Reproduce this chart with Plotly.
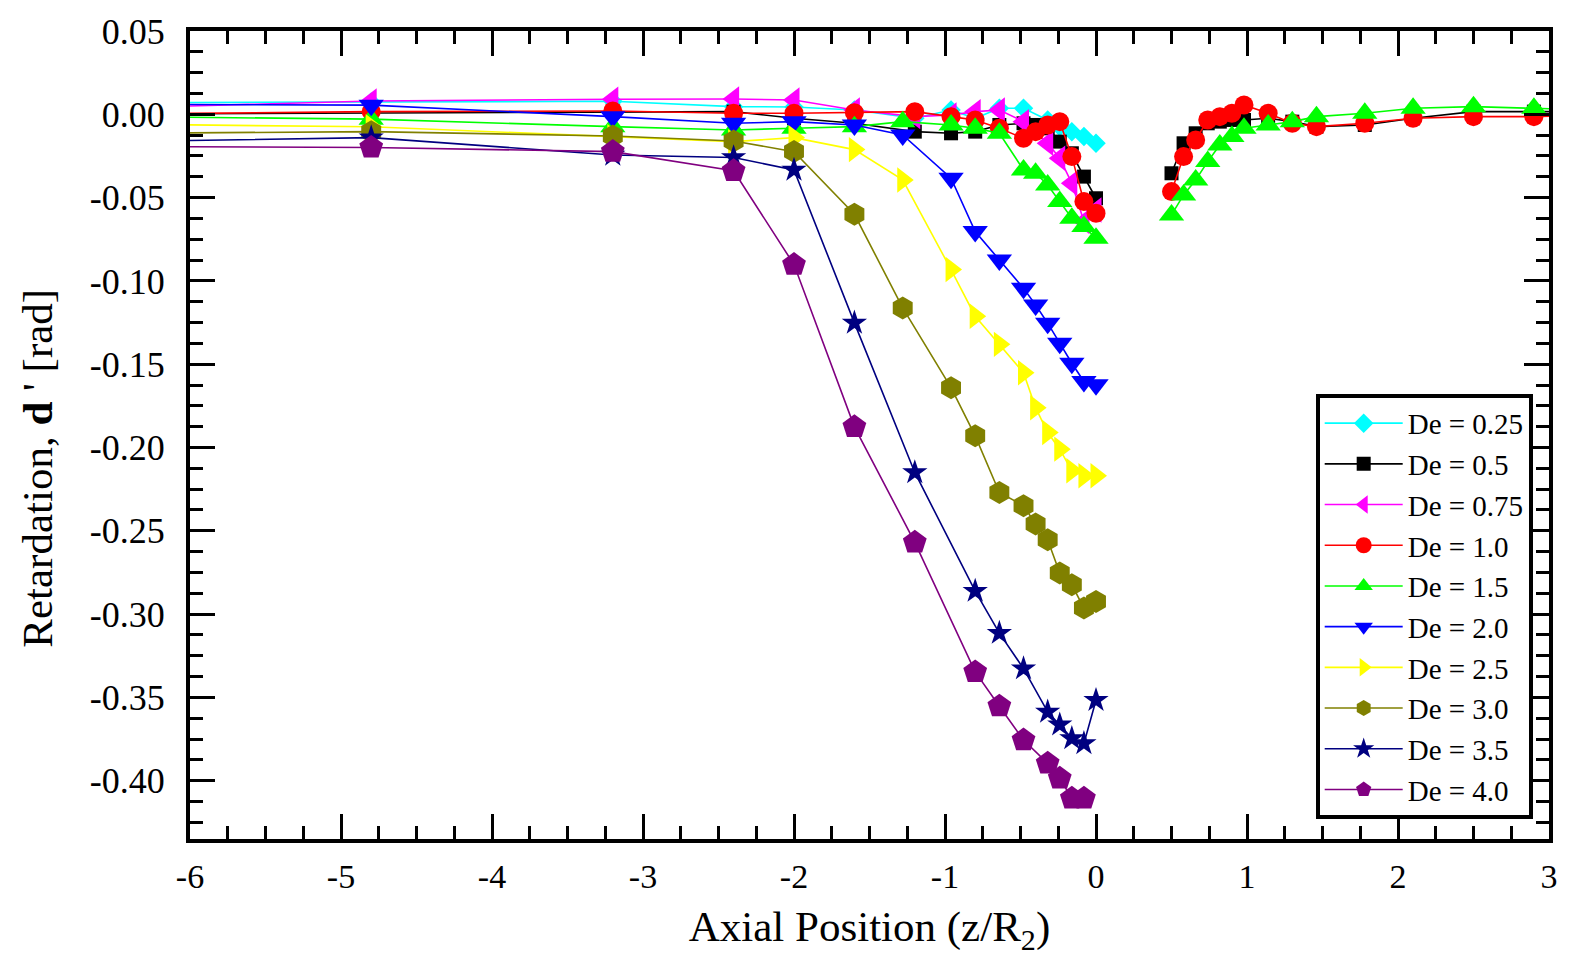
import plotly.graph_objects as go

# ---------------- data ----------------
LABELS = ["De = 0.25", "De = 0.5", "De = 0.75", "De = 1.0", "De = 1.5",
          "De = 2.0", "De = 2.5", "De = 3.0", "De = 3.5", "De = 4.0"]
COLORS = ["#00FFFF", "#000000", "#FF00FF", "#FF0000", "#00FF00",
          "#0000FF", "#FFFF00", "#808000", "#000080", "#800080"]
SYMBOLS = ["diamond", "square", "triangle-left", "circle", "triangle-up",
           "triangle-down", "triangle-right", "hexagon", "star", "pentagon"]
SIZES = [15, 14, 22, 19, 22, 22, 22, 23, 19, 25]

# upstream (negative z) side
X_025 = [-6.4, -4.8, -3.2, -2.4, -2.0, -1.6, -1.2, -0.96, -0.8, -0.64, -0.48, -0.32, -0.24, -0.16, -0.08, 0.0]
Y_025 = [0.0070, 0.0074, 0.0078, 0.0046, 0.0044, 0.0026, -0.0024, 0.0026, -0.0024, 0.0036, 0.0036, -0.0034, -0.0074, -0.0104, -0.0134, -0.0174]

X_05 = [-6.4, -4.8, -3.2, -2.4, -2.0, -1.6, -1.2, -0.96, -0.8, -0.64, -0.48, -0.40, -0.32, -0.24, -0.16, -0.08, 0.0]
Y_05 = [0.0002, 0.0008, 0.0016, 0.0016, -0.0024, -0.0054, -0.0104, -0.0114, -0.0104, -0.0064, -0.0054, -0.0064, -0.0084, -0.0164, -0.0234, -0.0374, -0.0504]

X_075 = [-6.4, -4.8, -3.2, -2.4, -2.0, -1.6, -1.2, -0.96, -0.8, -0.64, -0.48, -0.32, -0.24, -0.16, -0.08, 0.0]
Y_075 = [0.0040, 0.0080, 0.0090, 0.0092, 0.0086, 0.0026, -0.0014, -0.0004, 0.0016, 0.0026, -0.0044, -0.0174, -0.0264, -0.0414, -0.0644, -0.0574]

X_10 = [-6.4, -4.8, -3.2, -2.4, -2.0, -1.6, -1.2, -0.96, -0.8, -0.64, -0.48, -0.40, -0.32, -0.24, -0.16, -0.08, 0.0]
Y_10 = [0.0002, 0.0016, 0.0020, 0.0006, 0.0006, 0.0010, 0.0016, -0.0014, -0.0034, -0.0084, -0.0144, -0.0104, -0.0064, -0.0044, -0.0254, -0.0524, -0.0594]

X_15 = [-6.4, -4.8, -3.2, -2.4, -2.0, -1.6, -1.28, -0.96, -0.8, -0.64, -0.48, -0.40, -0.32, -0.24, -0.16, -0.08, 0.0]
Y_15 = [-0.0014, -0.0029, -0.0074, -0.0094, -0.0084, -0.0074, -0.0044, -0.0064, -0.0084, -0.0114, -0.0334, -0.0354, -0.0424, -0.0524, -0.0624, -0.0674, -0.0744]

X_20 = [-6.4, -4.8, -3.2, -2.4, -2.0, -1.6, -1.28, -0.96, -0.8, -0.64, -0.48, -0.40, -0.32, -0.24, -0.16, -0.08, 0.0]
Y_20 = [0.0060, 0.0055, -0.0014, -0.0054, -0.0044, -0.0064, -0.0124, -0.0384, -0.0704, -0.0874, -0.1044, -0.1144, -0.1254, -0.1374, -0.1494, -0.1604, -0.1624]

X_25 = [-6.4, -4.8, -3.2, -2.4, -2.0, -1.6, -1.28, -0.96, -0.8, -0.64, -0.48, -0.40, -0.32, -0.24, -0.16, -0.08, 0.0]
Y_25 = [-0.0060, -0.0075, -0.0134, -0.0164, -0.0140, -0.0212, -0.0394, -0.0932, -0.1212, -0.1381, -0.1551, -0.1761, -0.1910, -0.2010, -0.2140, -0.2170, -0.2170]

X_30 = [-6.4, -4.8, -3.2, -2.4, -2.0, -1.6, -1.28, -0.96, -0.8, -0.64, -0.48, -0.40, -0.32, -0.24, -0.16, -0.08, 0.0]
Y_30 = [-0.0114, -0.0104, -0.0130, -0.0160, -0.0224, -0.0600, -0.1162, -0.1641, -0.1930, -0.2270, -0.2349, -0.2459, -0.2554, -0.2754, -0.2824, -0.2964, -0.2924]

X_35 = [-6.4, -4.8, -3.2, -2.4, -2.0, -1.6, -1.2, -0.8, -0.64, -0.48, -0.32, -0.24, -0.16, -0.08, 0.0]
Y_35 = [-0.0163, -0.0140, -0.0244, -0.0259, -0.0334, -0.1252, -0.2150, -0.2862, -0.3114, -0.3327, -0.3587, -0.3664, -0.3746, -0.3776, -0.3517]

X_40 = [-6.4, -4.8, -3.2, -2.4, -2.0, -1.6, -1.2, -0.8, -0.64, -0.48, -0.32, -0.24, -0.16, -0.08]
Y_40 = [-0.0193, -0.0199, -0.0224, -0.0339, -0.0902, -0.1876, -0.2569, -0.3347, -0.3553, -0.3756, -0.3896, -0.3986, -0.4106, -0.4106]

# downstream (positive z) side, measured for De = 0.5, 1.0, 1.5
X_POS = [0.5, 0.58, 0.66, 0.74, 0.82, 0.90, 0.98, 1.14, 1.30, 1.46, 1.78, 2.10, 2.50, 2.90, 3.3]
Y_05_POS = [-0.0354, -0.0174, -0.0114, -0.0054, -0.0044, -0.0034, -0.0034, -0.0024, -0.0044, -0.0074, -0.0064, -0.0024, 0.0016, 0.0016, 0.0016]
Y_10_POS = [-0.0464, -0.0254, -0.0154, -0.0034, -0.0014, 0.0006, 0.0056, 0.0006, -0.0054, -0.0074, -0.0054, -0.0024, -0.0014, -0.0014, -0.0004]
Y_15_POS = [-0.0604, -0.0484, -0.0394, -0.0284, -0.0184, -0.0134, -0.0084, -0.0064, -0.0044, -0.0014, 0.0006, 0.0036, 0.0046, 0.0036, 0.0026]

X_TICKS = [-6, -5, -4, -3, -2, -1, 0, 1, 2, 3]
X_TICK_TEXT = ["-6", "-5", "-4", "-3", "-2", "-1", "0", "1", "2", "3"]
Y_TICKS = [0.05, 0.0, -0.05, -0.10, -0.15, -0.20, -0.25, -0.30, -0.35, -0.40]
Y_TICK_TEXT = ["0.05", "0.00", "-0.05", "-0.10", "-0.15", "-0.20", "-0.25", "-0.30", "-0.35", "-0.40"]

X_TITLE = "Axial Position (z/R<sub>2</sub>)"
Y_TITLE = "Retardation, <b>d</b> ' [rad]"

SERIES_X = [X_025, X_05 + [None] + X_POS, X_075, X_10 + [None] + X_POS, X_15 + [None] + X_POS,
            X_20, X_25, X_30, X_35, X_40]
SERIES_Y = [Y_025, Y_05 + [None] + Y_05_POS, Y_075, Y_10 + [None] + Y_10_POS, Y_15 + [None] + Y_15_POS,
            Y_20, Y_25, Y_30, Y_35, Y_40]

FONT = "Liberation Serif"

fig = go.Figure()
for i in range(len(LABELS)):
    fig.add_trace(go.Scatter(
        x=SERIES_X[i], y=SERIES_Y[i], mode="lines+markers", name=LABELS[i],
        connectgaps=False,
        line=dict(color=COLORS[i], width=1.6),
        marker=dict(symbol=SYMBOLS[i], size=SIZES[i], color=COLORS[i],
                    line=dict(width=0)),
    ))

axis_common = dict(
    showline=True, linecolor="black", linewidth=4, mirror="allticks",
    ticks="inside", ticklen=25, tickwidth=3, tickcolor="black",
    showgrid=False, zeroline=False,
)

fig.update_xaxes(
    range=[-6, 3], tickmode="array", tickvals=X_TICKS, ticktext=X_TICK_TEXT,
    tickfont=dict(family=FONT, size=34, color="black"),
    minor=dict(tickmode="linear", tick0=0, dtick=0.25, ticks="inside", ticklen=13,
               tickwidth=3, tickcolor="black", showgrid=False),
    title=dict(text=X_TITLE, font=dict(family=FONT, size=43, color="black"),
               standoff=19),
    ticklabelstandoff=4,
    **axis_common,
)
fig.update_yaxes(
    range=[-0.435, 0.05], tickmode="array", tickvals=Y_TICKS, ticktext=Y_TICK_TEXT,
    tickfont=dict(family=FONT, size=36, color="black"),
    minor=dict(tickmode="linear", tick0=0, dtick=0.0125, ticks="inside", ticklen=13,
               tickwidth=3, tickcolor="black", showgrid=False),
    ticklabelstandoff=14,
    **axis_common,
)

fig.add_annotation(
    text=Y_TITLE, textangle=-90, xref="paper", yref="paper",
    x=(37 - 190) / 1366, y=(839 - 467) / 810, xanchor="center", yanchor="middle",
    showarrow=False, font=dict(family=FONT, size=43, color="black"),
)

fig.update_layout(
    width=1570, height=957,
    margin=dict(l=190, r=14, t=29, b=118),
    paper_bgcolor="white", plot_bgcolor="white",
    font=dict(family=FONT, color="black"),
    legend=dict(
        x=0.988, y=0.025, xanchor="right", yanchor="bottom",
        bgcolor="white", bordercolor="black", borderwidth=4,
        font=dict(family=FONT, size=29, color="black"),
        itemwidth=78, tracegroupgap=0,
    ),
    showlegend=True,
)

fig.write_html("out.html")
